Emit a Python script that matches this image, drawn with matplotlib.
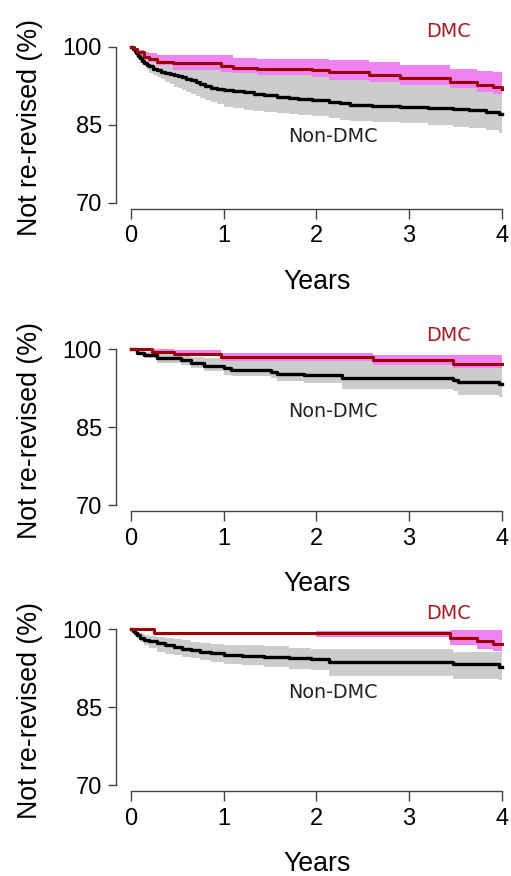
import matplotlib
matplotlib.use('Agg')
import matplotlib.pyplot as plt

# ---- panel 1 ----
p1_dmc_t = [0, 0.03, 0.07, 0.14, 0.2, 0.28, 0.45, 0.97, 1.1, 1.36, 1.95, 2.14, 2.57, 2.9, 3.44, 3.73, 3.9, 4.0]
p1_dmc_s = [100, 99.5, 99.0, 98.1, 97.6, 97.1, 96.8, 96.2, 96.0, 95.7, 95.5, 95.2, 94.6, 93.9, 93.3, 92.6, 92.2, 91.8]
p1_dmc_hi = [100, 99.8, 99.4, 99.0, 98.8, 98.5, 98.5, 98.4, 97.8, 97.7, 97.6, 97.4, 97.1, 96.5, 95.8, 95.4, 95.2, 95.2]
p1_dmc_lo = [100, 99.0, 98.4, 97.8, 97.0, 96.5, 95.6, 95.2, 94.9, 94.6, 94.2, 93.6, 93.2, 92.6, 92.0, 91.3, 91.0, 91.0]

p1_non_t = [0, 0.02, 0.04, 0.06, 0.08, 0.1, 0.12, 0.14, 0.17, 0.2, 0.24, 0.28, 0.33, 0.37, 0.42,
            0.46, 0.51, 0.55, 0.6, 0.645, 0.7, 0.75, 0.8, 0.86, 0.93, 1.0, 1.1, 1.22, 1.33, 1.44,
            1.58, 1.7, 1.8, 1.95, 2.14, 2.25, 2.36, 2.6, 2.9, 3.2, 3.47, 3.65, 3.83, 3.97, 4.0]
p1_non_s = [100, 99.6, 99.1, 98.7, 98.2, 97.8, 97.3, 96.8, 96.5, 96.2, 95.8, 95.5, 95.2, 95.0, 94.8,
            94.6, 94.3, 94.1, 93.8, 93.6, 93.2, 92.8, 92.4, 92.0, 91.85, 91.7, 91.5, 91.3, 91.0, 90.7,
            90.3, 90.1, 89.9, 89.7, 89.4, 89.1, 88.8, 88.6, 88.5, 88.2, 88.0, 87.8, 87.5, 87.1, 87.1]
p1_non_hi = [100, 99.9, 99.7, 99.5, 99.2, 98.9, 98.5, 98.1, 97.9, 97.6, 97.3, 97.0, 96.8, 96.6, 96.4,
             96.3, 96.1, 96.0, 95.8, 95.7, 95.6, 95.6, 95.6, 95.6, 95.6, 95.2, 95.0, 94.9, 94.9, 94.6,
             94.6, 94.6, 94.6, 94.4, 93.8, 93.7, 93.6, 93.3, 93.0, 92.7, 92.4, 92.1, 91.8, 91.4, 91.4]
p1_non_lo = [100, 99.3, 98.6, 98.0, 97.4, 96.9, 96.5, 96.2, 95.6, 95.0, 94.6, 94.2, 93.7, 93.3, 92.8,
             92.3, 92.0, 91.7, 91.3, 91.0, 90.6, 90.2, 89.8, 89.4, 89.0, 88.5, 88.2, 87.8, 87.6, 87.5,
             87.2, 87.0, 86.9, 86.6, 86.2, 86.0, 85.8, 85.6, 85.3, 85.0, 84.6, 84.3, 84.0, 83.5, 83.5]

# ---- panel 2 ----
p2_dmc_t = [0, 0.23, 0.46, 0.97, 2.61, 3.47, 4.0]
p2_dmc_s = [100, 99.4, 99.1, 98.6, 97.9, 97.1, 97.1]
p2_dmc_hi = [100, 100, 99.9, 99.3, 98.9, 98.9, 98.9]
p2_dmc_lo = [100, 99.2, 98.9, 97.8, 97.0, 96.4, 96.4]

p2_non_t = [0, 0.07, 0.14, 0.28, 0.54, 0.645, 0.79, 1.0, 1.08, 1.51, 1.58, 1.87, 2.28, 3.47, 3.53, 3.97, 4.0]
p2_non_s = [100, 99.35, 98.9, 98.3, 97.95, 97.3, 96.7, 96.4, 96.0, 95.7, 95.3, 95.1, 94.4, 94.1, 93.8, 93.3, 93.3]
p2_non_hi = [100, 99.8, 99.5, 99.2, 99.0, 98.6, 98.3, 98.1, 98.0, 97.9, 97.8, 97.8, 97.8, 97.0, 96.8, 96.5, 96.5]
p2_non_lo = [100, 99.0, 98.3, 97.3, 96.9, 96.4, 95.8, 95.1, 94.8, 94.4, 94.0, 93.6, 92.3, 92.0, 91.2, 90.9, 90.9]

# ---- panel 3 ----
p3_dmc_t = [0, 0.25, 2.0, 3.44, 3.73, 3.91, 4.0]
p3_dmc_s = [100, 99.2, 99.2, 98.4, 97.8, 97.2, 97.2]
p3_dmc_hi = [100, 99.4, 99.6, 99.9, 99.8, 99.8, 99.8]
p3_dmc_lo = [100, 98.9, 98.6, 97.0, 96.3, 95.9, 95.9]

p3_non_t = [0, 0.02, 0.05, 0.07, 0.1, 0.14, 0.2, 0.28, 0.37, 0.46, 0.55, 0.645, 0.75, 0.86, 1.0,
            1.2, 1.44, 1.7, 1.94, 2.14, 3.47, 3.97, 4.0]
p3_non_s = [100, 99.6, 99.2, 98.9, 98.4, 97.9, 97.7, 97.4, 97.0, 96.6, 96.3, 96.0, 95.7, 95.35, 95.0,
            94.85, 94.7, 94.5, 94.3, 93.7, 93.4, 92.8, 92.8]
p3_non_hi = [100, 99.9, 99.7, 99.5, 99.2, 98.9, 98.8, 98.6, 98.3, 98.1, 97.9, 97.6, 97.4, 97.2, 97.0,
             96.9, 96.7, 96.5, 96.3, 96.3, 95.7, 95.6, 95.6]
p3_non_lo = [100, 99.1, 98.6, 98.3, 97.6, 97.0, 96.4, 95.7, 95.3, 95.0, 94.7, 94.4, 94.1, 93.8, 93.4,
             93.1, 92.75, 92.4, 92.1, 91.1, 90.5, 90.3, 90.3]

# label positions (years, %)
dmc_label_y = [103.0, 102.7, 103.1]
non_label_y = [82.7, 88.0, 87.9]

panels = [
    (p1_dmc_t, p1_dmc_s, p1_dmc_hi, p1_dmc_lo, p1_non_t, p1_non_s, p1_non_hi, p1_non_lo),
    (p2_dmc_t, p2_dmc_s, p2_dmc_hi, p2_dmc_lo, p2_non_t, p2_non_s, p2_non_hi, p2_non_lo),
    (p3_dmc_t, p3_dmc_s, p3_dmc_hi, p3_dmc_lo, p3_non_t, p3_non_s, p3_non_hi, p3_non_lo),
]

W, H = 511, 876
fig = plt.figure(figsize=(W / 100, H / 100), dpi=100)
offsets = [0, 302.6, 582.6]
left, right = 116, 504.6

tick_font = 'Liberation Sans'
for i, (dt, ds, dhi, dlo, nt, ns, nhi, nlo) in enumerate(panels):
    top = 41.5 + offsets[i]
    bottom = 208.7 + offsets[i]
    ax = fig.add_axes([left / W, 1 - bottom / H, (right - left) / W, (bottom - top) / H])

    ax.fill_between(nt, nlo, nhi, step='post', color='#cccccc', lw=0)
    ax.fill_between(dt, dlo, dhi, step='post', color='#ee82ee', lw=0)
    ax.step(nt, ns, where='post', color='black', lw=2.4)
    ax.step(dt, ds, where='post', color='#990000', lw=2.2)

    ax.set_xlim(-0.16, 4.03)
    ax.set_ylim(68.85, 101)
    for s in ['top', 'right']:
        ax.spines[s].set_visible(False)
    for s in ['left', 'bottom']:
        ax.spines[s].set_color('#444444')
        ax.spines[s].set_linewidth(1.0)
    ax.spines['left'].set_bounds(70, 100)
    ax.spines['bottom'].set_bounds(0, 4)

    ax.set_xticks(range(5))
    ax.set_yticks([70, 85, 100])
    ax.tick_params(axis='y', direction='out', length=6, width=1, color='#444444', labelsize=17, pad=4)
    ax.tick_params(axis='x', direction='out', length=7, width=1, color='#444444', labelsize=17, pad=5)
    for lab in ax.get_xticklabels() + ax.get_yticklabels():
        lab.set_fontfamily(tick_font)

    ax.set_xlabel('Years', fontsize=19.3, fontfamily=tick_font)
    ax.xaxis.label.set_va('baseline')
    ax.xaxis.set_label_coords(0.5165, -0.478)
    ax.set_ylabel('Not re-revised (%)', fontsize=19.3, fontfamily=tick_font)
    ax.yaxis.label.set_va('baseline')
    ax.yaxis.set_label_coords(-0.203, 0.483)

    ax.text(3.42, dmc_label_y[i], 'DMC', color='#a31f24', fontsize=13.8, fontfamily='DejaVu Sans',
            ha='center', va='center', clip_on=False)
    ax.text(2.18, non_label_y[i], 'Non-DMC', color='#222222', fontsize=13.8, fontfamily='DejaVu Sans',
            ha='center', va='center', clip_on=False)

fig.savefig('out.png', dpi=100)
